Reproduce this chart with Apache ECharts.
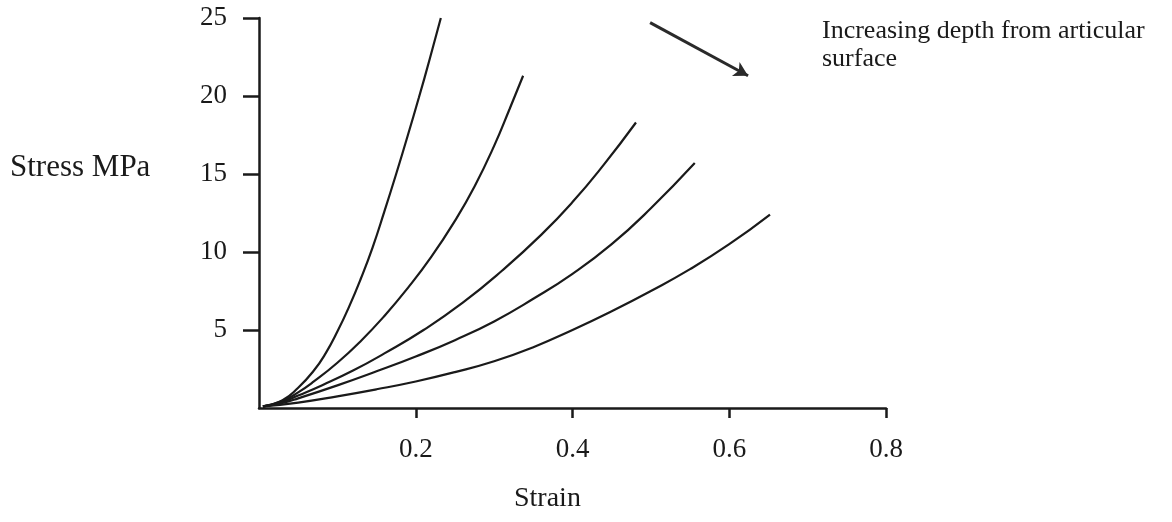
<!DOCTYPE html>
<html>
<head>
<meta charset="utf-8">
<script src="https://cdn.jsdelivr.net/npm/echarts@6/dist/echarts.min.js"></script>
<style>
html,body{margin:0;padding:0;background:#fff;}
#chart{width:1172px;height:522px;}
</style>
</head>
<body>
<div id="chart"></div>
<script>
// Stress (MPa) vs strain curves, shallowest layer (steepest curve) to deepest
const curve1 = [[0.005,0.1],[0.03,0.5],[0.05,1.3],[0.07,2.4],[0.085,3.5],[0.1,4.9],[0.115,6.5],[0.13,8.3],[0.145,10.3],[0.16,12.6],[0.175,15],[0.19,17.5],[0.204,19.9],[0.218,22.4],[0.232,25]];
const curve2 = [[0.005,0.1],[0.03,0.45],[0.05,1.0],[0.07,1.7],[0.1,2.9],[0.13,4.3],[0.16,5.9],[0.19,7.7],[0.22,9.7],[0.25,12.0],[0.275,14.2],[0.3,16.8],[0.32,19.2],[0.337,21.3]];
const curve3 = [[0.005,0.1],[0.03,0.38],[0.05,0.8],[0.08,1.45],[0.12,2.4],[0.16,3.5],[0.21,5.0],[0.26,6.75],[0.31,8.8],[0.36,11.1],[0.4,13.2],[0.44,15.6],[0.481,18.3]];
const curve4 = [[0.005,0.1],[0.03,0.33],[0.05,0.62],[0.1,1.45],[0.15,2.35],[0.2,3.3],[0.25,4.35],[0.3,5.55],[0.35,7.0],[0.4,8.6],[0.45,10.5],[0.5,12.8],[0.556,15.7]];
const curve5 = [[0.005,0.1],[0.05,0.35],[0.1,0.75],[0.15,1.2],[0.2,1.7],[0.25,2.3],[0.3,3.0],[0.35,3.9],[0.4,5.0],[0.45,6.2],[0.5,7.5],[0.55,8.9],[0.6,10.5],[0.652,12.4]];
const xTicks = [0.2, 0.4, 0.6, 0.8];
const yTicks = [5, 10, 15, 20, 25];
const arrowStart = [0.499, 24.7];
const arrowEnd = [0.624, 21.3];
const annotation = 'Increasing depth from articular\nsurface';

const serif = '"Liberation Serif","DejaVu Serif",serif';
const chart = echarts.init(document.getElementById('chart'), null, {renderer:'canvas'});
const curves = [curve1, curve2, curve3, curve4, curve5];
const series = curves.map((c, i) => ({
  type: 'line',
  name: 'Depth ' + (i + 1),
  data: c,
  smooth: 0.5,
  showSymbol: false,
  lineStyle: {color: '#1a1a1a', width: 2.2},
  silent: true
}));
series.push({
  type: 'line',
  data: [],
  markLine: {
    silent: true,
    symbol: ['none', 'arrow'],
    symbolSize: [12, 14],
    label: {show: false},
    lineStyle: {color: '#2a2a2a', width: 3, type: 'solid'},
    data: [[{coord: arrowStart}, {coord: arrowEnd}]]
  }
});
chart.setOption({
  backgroundColor: '#ffffff',
  animation: false,
  grid: {left: 259, right: 286, top: 18, bottom: 114, containLabel: false},
  xAxis: {
    type: 'value', min: 0, max: 0.8, interval: 0.2,
    splitLine: {show: false},
    axisLine: {lineStyle: {color: '#1a1a1a', width: 2.5}},
    axisTick: {show: true, inside: false, length: 10, customValues: xTicks, lineStyle: {color: '#1a1a1a', width: 2.5}},
    axisLabel: {customValues: xTicks, margin: 28, color: '#1a1a1a', fontFamily: serif, fontSize: 27,
      formatter: v => v.toFixed(1)}
  },
  yAxis: {
    type: 'value', min: 0, max: 25, interval: 5,
    splitLine: {show: false},
    axisLine: {show: true, lineStyle: {color: '#1a1a1a', width: 2.5}},
    axisTick: {show: true, inside: false, length: 16, customValues: yTicks, lineStyle: {color: '#1a1a1a', width: 2.5}},
    axisLabel: {customValues: yTicks, margin: 32, color: '#1a1a1a', fontFamily: serif, fontSize: 27}
  },
  graphic: [
    {type: 'text', left: 10, top: 152, style: {text: 'Stress MPa', font: '31px ' + serif, fill: '#1a1a1a'}},
    {type: 'text', left: 514, top: 485, style: {text: 'Strain', font: '28px ' + serif, fill: '#1a1a1a'}},
    {type: 'text', left: 822, top: 17, style: {text: annotation, font: '26px ' + serif, fill: '#1a1a1a', lineHeight: 28}}
  ],
  series: series
});
</script>
</body>
</html>
